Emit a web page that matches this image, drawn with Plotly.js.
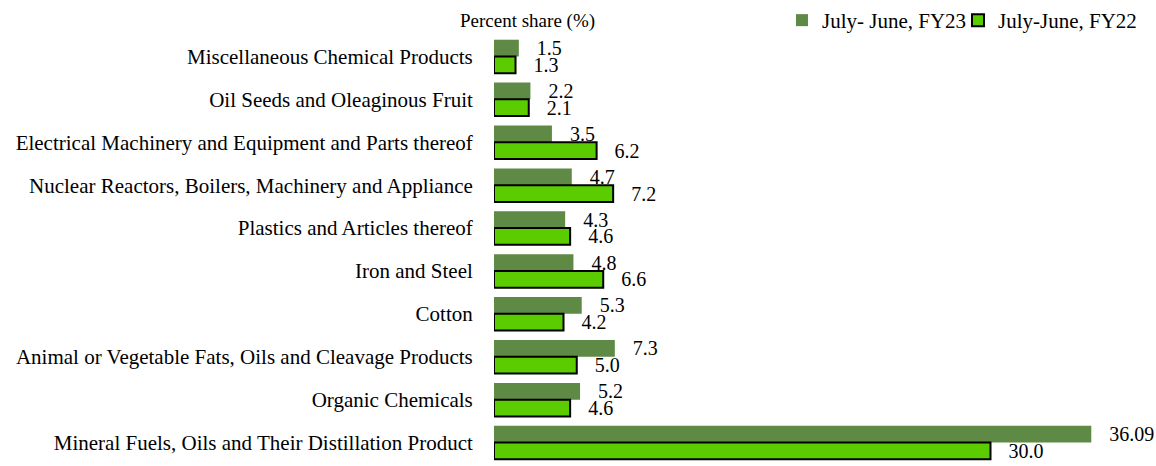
<!DOCTYPE html>
<html>
<head>
<meta charset="utf-8">
<script src="https://cdn.plot.ly/plotly-3.0.1.min.js"></script>
<style>html,body{margin:0;padding:0;background:#fff}#chart{width:1156px;height:466px}</style>
</head>
<body>
<div id="chart"></div>
<script>
const categories = [
  "Miscellaneous Chemical Products",
  "Oil Seeds and Oleaginous Fruit",
  "Electrical Machinery and Equipment and Parts thereof",
  "Nuclear Reactors, Boilers, Machinery and Appliance",
  "Plastics and Articles thereof",
  "Iron and Steel",
  "Cotton",
  "Animal or Vegetable Fats, Oils and Cleavage Products",
  "Organic Chemicals",
  "Mineral Fuels, Oils and Their Distillation Product"
];
const fy23 = [1.5, 2.2, 3.5, 4.7, 4.3, 4.8, 5.3, 7.3, 5.2, 36.09];
const fy22 = [1.3, 2.1, 6.2, 7.2, 4.6, 6.6, 4.2, 5.0, 4.6, 30.0];
const fy23Labels = ["1.5", "2.2", "3.5", "4.7", "4.3", "4.8", "5.3", "7.3", "5.2", "36.09"];
const fy22Labels = ["1.3", "2.1", "6.2", "7.2", "4.6", "6.6", "4.2", "5.0", "4.6", "30.0"];

const fam = "Liberation Serif, Times New Roman, serif";
const font = {family: fam, size: 21, color: "#000"};
const valFont = {family: fam, size: 20, color: "#000"};
const legFont = {family: fam, size: 21, color: "#000"};
const pad = "\u00a0\u00a0\u00a0";

const traces = [
  {
    type: "bar", orientation: "h", name: "July- June, FY23", legend: "legend",
    y: categories, x: fy23, text: fy23Labels,
    texttemplate: pad + "%{text}", textposition: "outside", cliponaxis: false,
    constraintext: "none",
    textfont: valFont,
    marker: {color: "#5E8A45", line: {width: 0}},
    hoverinfo: "x+y"
  },
  {
    type: "bar", orientation: "h", name: "July-June, FY22", legend: "legend2",
    y: categories, x: fy22, text: fy22Labels,
    texttemplate: pad + "%{text}", textposition: "outside", cliponaxis: false,
    constraintext: "none",
    textfont: valFont,
    marker: {color: "#5BCC00", line: {width: 2, color: "#000"}},
    hoverinfo: "x+y"
  }
];

const legendBase = {orientation: "h", xref: "paper", yref: "paper", xanchor: "left",
  y: 1.0816, yanchor: "top", font: legFont, itemwidth: 30,
  bgcolor: "rgba(0,0,0,0)", borderwidth: 0};

const layout = {
  width: 1156, height: 466,
  margin: {l: 494, r: 0, t: 35, b: 2, autoexpand: false},
  paper_bgcolor: "#fff", plot_bgcolor: "#fff",
  font: font,
  barmode: "group", bargap: 0.22, bargroupgap: 0,
  showlegend: true,
  legend: Object.assign({}, legendBase, {x: 0.435}),
  legend2: Object.assign({}, legendBase, {x: 0.7009}),
  xaxis: {range: [0, 40], showgrid: false, zeroline: false, showline: false,
          showticklabels: false, ticks: "", fixedrange: true},
  yaxis: {autorange: "reversed", type: "category", showgrid: false, zeroline: false,
          showline: false, ticks: "outside", ticklen: 16, tickcolor: "rgba(0,0,0,0)",
          tickfont: font, automargin: false},
  annotations: [
    {text: "Percent share (%)", xref: "paper", yref: "paper", x: -0.055, y: 1, yanchor: "bottom",
     xanchor: "left", showarrow: false, font: {family: fam, size: 19, color: "#000"}, yshift: 1}
  ]
};

Plotly.newPlot("chart", traces, layout, {displayModeBar: false, staticPlot: true});
</script>
</body>
</html>
